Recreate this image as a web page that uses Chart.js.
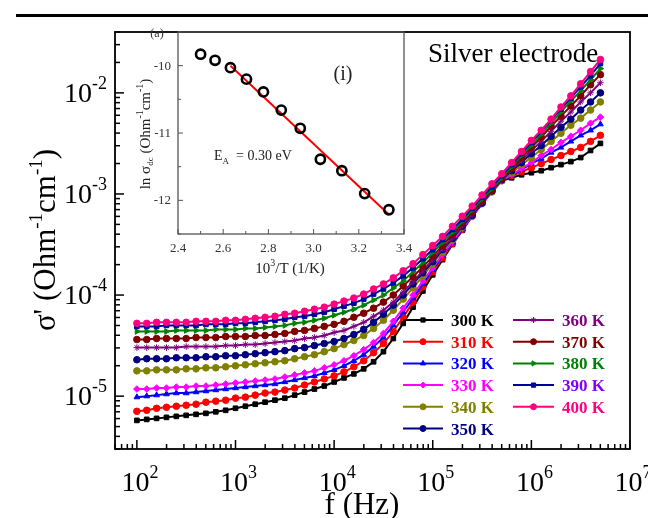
<!DOCTYPE html>
<html><head><meta charset="utf-8">
<script src="https://cdn.jsdelivr.net/npm/chart.js@4.4.1/dist/chart.umd.min.js"></script>
<style>
html,body{margin:0;padding:0;background:#fff;}
#wrap{position:relative;width:648px;height:518px;overflow:hidden;background:#fff;}
#main{position:absolute;left:0;top:0;width:648px;height:518px;}
#inset{position:absolute;left:130px;top:20px;width:290px;height:270px;}
</style></head><body>
<div id="wrap"><canvas id="main" width="648" height="518"></canvas><canvas id="inset" width="290" height="270"></canvas></div>
<script>
// ---- main panel data: frequency (Hz) and log10 of sigma' (Ohm^-1 cm^-1) ----
const freqHz = [100,125.9,158.5,199.5,251.2,316.2,398.1,501.2,631,794.3,
  1000,1259,1585,1995,2512,3162,3981,5012,6310,7943,
  1e4,12589,15849,19953,25119,31623,39811,50119,63096,79433,
  1e5,125893,158489,199526,251189,316228,398107,501187,630957,794328,
  1e6,1258925,1584893,1995262,2511886,3162278,3981072,5011872];
const tempLabels = ['300 K','310 K','320 K','330 K','340 K','350 K','360 K','370 K','380 K','390 K','400 K'];
const logS300 = [-5.24,-5.23,-5.22,-5.21,-5.20,-5.19,-5.18,-5.17,-5.155,-5.14,
  -5.12,-5.10,-5.08,-5.06,-5.04,-5.02,-4.99,-4.96,-4.93,-4.90,
  -4.86,-4.82,-4.78,-4.73,-4.66,-4.56,-4.43,-4.28,-4.12,-3.96,
  -3.80,-3.65,-3.50,-3.36,-3.22,-3.09,-2.97,-2.87,-2.84,-2.81,
  -2.79,-2.77,-2.74,-2.71,-2.68,-2.64,-2.57,-2.50];
const logS310 = [-5.15,-5.14,-5.12,-5.11,-5.10,-5.09,-5.08,-5.06,-5.05,-5.04,
  -5.02,-5.01,-4.99,-4.97,-4.96,-4.94,-4.92,-4.89,-4.86,-4.83,
  -4.80,-4.76,-4.71,-4.65,-4.57,-4.48,-4.36,-4.22,-4.07,-3.92,
  -3.77,-3.63,-3.49,-3.35,-3.22,-3.09,-2.97,-2.86,-2.82,-2.78,
  -2.74,-2.70,-2.66,-2.62,-2.58,-2.54,-2.48,-2.42];
const logS320 = [-5.01,-5.00,-4.99,-4.98,-4.97,-4.97,-4.96,-4.95,-4.94,-4.93,
  -4.92,-4.91,-4.90,-4.89,-4.88,-4.86,-4.84,-4.82,-4.80,-4.77,
  -4.74,-4.70,-4.65,-4.59,-4.51,-4.42,-4.30,-4.17,-4.03,-3.89,
  -3.75,-3.61,-3.48,-3.35,-3.22,-3.10,-2.98,-2.87,-2.82,-2.76,
  -2.70,-2.65,-2.59,-2.54,-2.48,-2.42,-2.37,-2.31];
const logS330 = [-4.93,-4.93,-4.92,-4.92,-4.91,-4.91,-4.90,-4.90,-4.89,-4.88,
  -4.87,-4.86,-4.85,-4.84,-4.83,-4.81,-4.79,-4.77,-4.75,-4.72,
  -4.69,-4.65,-4.60,-4.54,-4.47,-4.38,-4.26,-4.13,-4.00,-3.86,
  -3.73,-3.60,-3.47,-3.34,-3.22,-3.10,-2.98,-2.87,-2.81,-2.75,
  -2.69,-2.62,-2.56,-2.49,-2.43,-2.37,-2.30,-2.24];
const logS340 = [-4.75,-4.75,-4.74,-4.74,-4.74,-4.73,-4.73,-4.72,-4.72,-4.71,
  -4.70,-4.69,-4.68,-4.67,-4.66,-4.65,-4.63,-4.61,-4.59,-4.56,
  -4.53,-4.49,-4.45,-4.40,-4.33,-4.25,-4.15,-4.04,-3.93,-3.81,
  -3.69,-3.57,-3.45,-3.33,-3.21,-3.09,-2.98,-2.87,-2.79,-2.71,
  -2.64,-2.56,-2.48,-2.40,-2.32,-2.25,-2.17,-2.09];
const logS350 = [-4.64,-4.63,-4.63,-4.63,-4.62,-4.62,-4.62,-4.61,-4.61,-4.60,
  -4.60,-4.59,-4.58,-4.57,-4.56,-4.55,-4.53,-4.52,-4.50,-4.48,
  -4.46,-4.43,-4.39,-4.34,-4.27,-4.19,-4.10,-4.00,-3.89,-3.78,
  -3.67,-3.55,-3.44,-3.32,-3.21,-3.09,-2.97,-2.86,-2.77,-2.69,
  -2.60,-2.52,-2.43,-2.34,-2.26,-2.17,-2.09,-2.00];
const logS360 = [-4.52,-4.52,-4.52,-4.52,-4.52,-4.51,-4.51,-4.51,-4.51,-4.50,
  -4.50,-4.49,-4.49,-4.48,-4.47,-4.46,-4.45,-4.43,-4.42,-4.40,
  -4.37,-4.35,-4.31,-4.27,-4.21,-4.15,-4.07,-3.97,-3.87,-3.76,
  -3.65,-3.54,-3.43,-3.31,-3.20,-3.08,-2.97,-2.86,-2.76,-2.67,
  -2.57,-2.48,-2.38,-2.28,-2.19,-2.09,-2.00,-1.90];
const logS370 = [-4.44,-4.44,-4.43,-4.43,-4.43,-4.43,-4.42,-4.42,-4.42,-4.41,
  -4.41,-4.41,-4.40,-4.40,-4.39,-4.38,-4.36,-4.35,-4.33,-4.31,
  -4.29,-4.26,-4.22,-4.18,-4.13,-4.07,-4.00,-3.91,-3.82,-3.72,
  -3.62,-3.51,-3.40,-3.29,-3.18,-3.07,-2.96,-2.85,-2.75,-2.64,
  -2.54,-2.44,-2.33,-2.23,-2.13,-2.03,-1.92,-1.82];
const logS380 = [-4.36,-4.36,-4.36,-4.36,-4.35,-4.35,-4.35,-4.35,-4.34,-4.34,
  -4.34,-4.33,-4.33,-4.32,-4.31,-4.30,-4.28,-4.27,-4.25,-4.23,
  -4.20,-4.17,-4.14,-4.10,-4.05,-4.00,-3.93,-3.86,-3.77,-3.68,
  -3.58,-3.48,-3.38,-3.27,-3.16,-3.05,-2.95,-2.84,-2.73,-2.62,
  -2.52,-2.41,-2.30,-2.19,-2.08,-1.98,-1.87,-1.76];
const logS390 = [-4.31,-4.31,-4.31,-4.30,-4.30,-4.30,-4.30,-4.29,-4.29,-4.29,
  -4.28,-4.28,-4.27,-4.26,-4.25,-4.24,-4.22,-4.21,-4.19,-4.17,
  -4.14,-4.11,-4.08,-4.04,-3.99,-3.94,-3.88,-3.81,-3.73,-3.64,
  -3.55,-3.45,-3.35,-3.25,-3.14,-3.03,-2.93,-2.82,-2.71,-2.60,
  -2.49,-2.38,-2.27,-2.16,-2.05,-1.94,-1.83,-1.71];
const logS400 = [-4.28,-4.28,-4.27,-4.27,-4.27,-4.27,-4.26,-4.26,-4.26,-4.25,
  -4.25,-4.24,-4.23,-4.22,-4.21,-4.19,-4.18,-4.16,-4.14,-4.12,
  -4.09,-4.06,-4.03,-3.99,-3.94,-3.89,-3.83,-3.76,-3.69,-3.60,
  -3.51,-3.42,-3.32,-3.22,-3.12,-3.01,-2.90,-2.80,-2.69,-2.58,
  -2.47,-2.37,-2.26,-2.14,-2.03,-1.91,-1.79,-1.67];
const xTickExps = [2,3,4,5,6,7];
const yTickExps = [-5,-4,-3,-2];

// ---- inset data: 1000/T (1/K) and ln sigma_dc ----
const invT = [2.500,2.564,2.632,2.703,2.778,2.857,2.941,3.030,3.125,3.226,3.333];
const lnSdc = [-9.83,-9.92,-10.03,-10.20,-10.39,-10.66,-10.93,-11.39,-11.56,-11.90,-12.14];
const fitX = [2.632,3.333];
const fitY = [-10.00,-12.21];
const insetXTicks = [2.4,2.6,2.8,3.0,3.2,3.4];
const insetYTicks = [-10,-11,-12];

const series = [logS300,logS310,logS320,logS330,logS340,logS350,logS360,logS370,logS380,logS390,logS400];
const colors = ['#000000','#FF0000','#0000FF','#FF00FF','#808000','#000080','#800080','#800000','#008000','#0000A0','#FF0080'];
const textColors = ['#000000','#FF0000','#0000FF','#FF00FF','#808000','#000080','#800080','#800000','#008000','#8000FF','#FF0080'];
const styles = ['rect','circle','triangle','rectRot','circle','circle','star','circle','triangle','rect','circle'];
const rotations = [0,0,0,0,0,0,0,0,90,0,0];
const SERIF = '"Liberation Serif","Times New Roman",serif';

function drawRich(ctx, parts, x, y, align, color) {
  let w = 0;
  parts.forEach(p => { ctx.font = (p.bold ? 'bold ' : '') + p.size + 'px ' + SERIF; p.w = ctx.measureText(p.t).width; w += p.w; });
  let cx = align === 'center' ? x - w / 2 : (align === 'right' ? x - w : x);
  ctx.textAlign = 'left'; ctx.textBaseline = 'alphabetic'; ctx.fillStyle = color || '#000';
  parts.forEach(p => { ctx.font = (p.bold ? 'bold ' : '') + p.size + 'px ' + SERIF; ctx.fillText(p.t, cx, y + (p.dy || 0)); cx += p.w; });
}

function marker(ctx, style, rot, r, x, y, color) {
  ctx.save();
  ctx.fillStyle = color; ctx.strokeStyle = color; ctx.lineWidth = 1;
  if (Chart.helpers && Chart.helpers.drawPoint) {
    Chart.helpers.drawPoint(ctx, {pointStyle: style, rotation: rot, radius: r, borderWidth: 1}, x, y);
  } else {
    ctx.beginPath(); ctx.arc(x, y, r, 0, Math.PI * 2); ctx.fill();
  }
  ctx.restore();
}

const datasets = series.map((s, i) => ({
  label: tempLabels[i],
  data: freqHz.map((f, j) => ({x: f, y: Math.pow(10, s[j])})),
  borderColor: colors[i], backgroundColor: colors[i],
  pointBackgroundColor: colors[i], pointBorderColor: colors[i],
  pointStyle: styles[i], rotation: rotations[i],
  pointRadius: 3.3, pointBorderWidth: 1, borderWidth: 2, tension: 0,
  order: 10 - i
}));

const mainPlugin = {
  id: 'mainDecor',
  afterDraw(chart) {
    const ctx = chart.ctx, a = chart.chartArea;
    const xs = chart.scales.x, ys = chart.scales.y;
    ctx.save();
    // page rule
    ctx.fillStyle = '#000'; ctx.fillRect(16, 14, 632, 3);
    // frame
    ctx.strokeStyle = '#000'; ctx.lineWidth = 1.8;
    ctx.strokeRect(a.left, a.top, a.right - a.left, a.bottom - a.top);
    // ticks
    ctx.lineWidth = 1.5;
    for (let e = 1; e <= 7; e++) for (let m = 1; m <= 9; m++) {
      const v = m * Math.pow(10, e);
      if (v < xs.min || v > xs.max) continue;
      const px = xs.getPixelForValue(v), len = m === 1 ? 9 : 5;
      ctx.beginPath(); ctx.moveTo(px, a.bottom); ctx.lineTo(px, a.bottom - len); ctx.stroke();
    }
    for (let e = -6; e <= -1; e++) for (let m = 1; m <= 9; m++) {
      const v = m * Math.pow(10, e);
      if (v < ys.min || v > ys.max) continue;
      const py = ys.getPixelForValue(v), len = m === 1 ? 9 : 5;
      ctx.beginPath(); ctx.moveTo(a.left, py); ctx.lineTo(a.left + len, py); ctx.stroke();
    }
    // tick labels
    xTickExps.forEach(e => {
      const px = xs.getPixelForValue(Math.pow(10, e));
      drawRich(ctx, [{t: '10', size: 28}, {t: String(e), size: 18, dy: -13}], px + 3, 491, 'center');
    });
    yTickExps.forEach(e => {
      const py = ys.getPixelForValue(Math.pow(10, e));
      drawRich(ctx, [{t: '10', size: 28}, {t: String(e), size: 18, dy: -13}], 107, py + 9, 'right');
    });
    // axis titles
    drawRich(ctx, [{t: 'f (Hz)', size: 31}], 362, 514, 'center');
    ctx.save(); ctx.translate(44, 240); ctx.rotate(-Math.PI / 2);
    drawRich(ctx, [{t: "\u03C3' (Ohm", size: 31}, {t: '-1', size: 19, dy: -13}, {t: 'cm', size: 31}, {t: '-1', size: 19, dy: -13}, {t: ')', size: 31}], 0, 11, 'center');
    ctx.restore();
    // label
    drawRich(ctx, [{t: 'Silver electrode', size: 27}], 428, 62, 'left');
    // legend
    chart.data.datasets.forEach((d, i) => {
      const col = i < 6 ? 0 : 1, row = i < 6 ? i : i - 6;
      const y = 320 + row * 21.7;
      const x0 = col === 0 ? 403 : 513, x1 = col === 0 ? 443 : 554, tx = col === 0 ? 451 : 562;
      ctx.strokeStyle = colors[i]; ctx.lineWidth = 2;
      ctx.beginPath(); ctx.moveTo(x0, y); ctx.lineTo(x1, y); ctx.stroke();
      marker(ctx, styles[i], rotations[i], 3, (x0 + x1) / 2, y, colors[i]);
      drawRich(ctx, [{t: d.label, size: 17, bold: true}], tx, y + 6, 'left', textColors[i]);
    });
    ctx.restore();
  }
};

new Chart(document.getElementById('main'), {
  type: 'line',
  data: {datasets},
  options: {
    responsive: false, animation: false, devicePixelRatio: 1,
    layout: {padding: {left: 0, right: 18, top: 32, bottom: 0}},
    plugins: {legend: {display: false}, tooltip: {enabled: false}},
    scales: {
      x: {type: 'logarithmic', min: 60, max: 1e7, ticks: {display: false}, grid: {display: false}, border: {display: false},
          afterFit(s) { s.height = 69; }},
      y: {type: 'logarithmic', min: 3e-6, max: 4e-2, ticks: {display: false}, grid: {display: false}, border: {display: false},
          afterFit(s) { s.width = 115; }}
    }
  },
  plugins: [mainPlugin]
});

const insetPlugin = {
  id: 'insetDecor',
  afterDraw(chart) {
    const ctx = chart.ctx, a = chart.chartArea;
    const xs = chart.scales.x, ys = chart.scales.y;
    ctx.save();
    ctx.strokeStyle = '#555'; ctx.lineWidth = 1.3;
    ctx.strokeRect(a.left, a.top, a.right - a.left, a.bottom - a.top);
    ctx.lineWidth = 1;
    for (let v = 2.4; v <= 3.401; v += 0.1) {
      const px = xs.getPixelForValue(v), major = Math.abs(Math.round(v * 10) % 2) === 0;
      ctx.beginPath(); ctx.moveTo(px, a.bottom); ctx.lineTo(px, a.bottom - (major ? 5 : 3)); ctx.stroke();
    }
    for (let v = -12.5; v <= -9.5; v += 0.5) {
      const py = ys.getPixelForValue(v), major = Number.isInteger(v);
      ctx.beginPath(); ctx.moveTo(a.left, py); ctx.lineTo(a.left + (major ? 5 : 3), py); ctx.stroke();
    }
    insetXTicks.forEach(v => {
      drawRich(ctx, [{t: v.toFixed(1), size: 13}], xs.getPixelForValue(v), 232, 'center', '#333');
    });
    insetYTicks.forEach(v => {
      drawRich(ctx, [{t: String(v), size: 13}], 41, ys.getPixelForValue(v) + 4, 'right', '#333');
    });
    drawRich(ctx, [{t: '10', size: 15}, {t: '3', size: 10, dy: -7}, {t: '/T (1/K)', size: 15}], 160, 253, 'center', '#222');
    ctx.save(); ctx.translate(15, 114); ctx.rotate(-Math.PI / 2);
    drawRich(ctx, [{t: 'ln \u03C3', size: 15}, {t: 'dc', size: 9, dy: 3}, {t: ' (Ohm', size: 15}, {t: '-1', size: 10, dy: -7}, {t: 'cm', size: 15}, {t: '-1', size: 10, dy: -7}, {t: ')', size: 15}], 0, 5, 'center', '#222');
    ctx.restore();
    drawRich(ctx, [{t: '(i)', size: 20}], 213, 60, 'center', '#222');
    drawRich(ctx, [{t: 'E', size: 14}, {t: 'A', size: 9, dy: 4}, {t: '  = 0.30 eV', size: 14}], 84, 140, 'left', '#222');
    drawRich(ctx, [{t: '(a)', size: 12}], 27, 17, 'center', '#333');
    ctx.restore();
  }
};

new Chart(document.getElementById('inset'), {
  type: 'scatter',
  data: {datasets: [
    {label: 'data', data: invT.map((x, i) => ({x, y: lnSdc[i]})), showLine: false,
     pointStyle: 'circle', pointRadius: 4.6, pointBorderWidth: 2.6, pointBorderColor: '#000', pointBackgroundColor: 'rgba(0,0,0,0)', order: 0},
    {label: 'fit', data: fitX.map((x, i) => ({x, y: fitY[i]})), showLine: true,
     borderColor: '#FF0000', borderWidth: 2, pointRadius: 0, order: 1}
  ]},
  options: {
    responsive: false, animation: false, devicePixelRatio: 1,
    layout: {padding: {left: 0, right: 16, top: 12, bottom: 0}},
    plugins: {legend: {display: false}, tooltip: {enabled: false}},
    scales: {
      x: {type: 'linear', min: 2.4, max: 3.4, ticks: {display: false}, grid: {display: false}, border: {display: false},
          afterFit(s) { s.height = 56; }},
      y: {type: 'linear', min: -12.5, max: -9.5, ticks: {display: false}, grid: {display: false}, border: {display: false},
          afterFit(s) { s.width = 48; }}
    }
  },
  plugins: [insetPlugin]
});
</script>
</body></html>
